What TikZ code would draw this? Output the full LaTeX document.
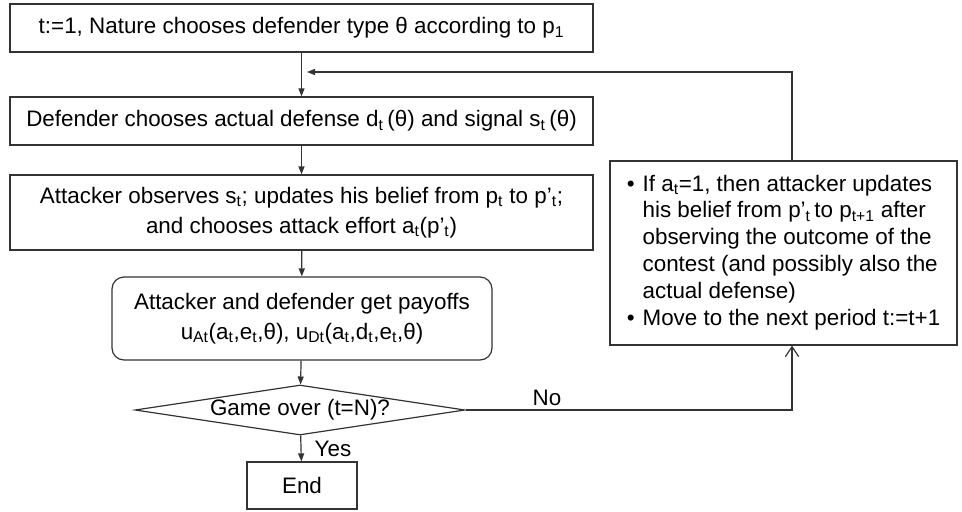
\documentclass[tikz,border=0pt]{standalone}
\usepackage{fontspec}
\setmainfont{Liberation Sans}
\usetikzlibrary{shapes, arrows.meta, calc}
\tikzset{box/.style={draw=black!80, line width=0.9pt, rectangle, inner sep=0pt, align=center},
roundbox/.style={box, rounded corners=9pt},
decide/.style={draw=black!80, line width=0.9pt, diamond, aspect=6.6, inner sep=0pt},
flow/.style={draw=black!80, line width=0.9pt, -{Triangle[length=6pt,width=4.5pt]}},
back/.style={draw=black!80, line width=0.9pt, -{Straight Barb[length=7.5pt,width=10pt]}}}

\begin{document}
\begin{tikzpicture}[x=0.75pt, y=-0.75pt, font=\fontsize{16.8}{20.2}\selectfont]
\useasboundingbox (0,0) rectangle (962,511);
% main column
\node[box, minimum width=437.25pt, minimum height=36pt] (nature) at (301.5,28) {t:=1, Nature chooses defender type θ according to p\textsubscript{1}};
\node[box, minimum width=437.25pt, minimum height=36pt] (defend) at (301.5,121) {Defender chooses actual defense d\textsubscript{t}\,(θ) and signal s\textsubscript{t}\,(θ)};
\node[box, minimum width=437.25pt, minimum height=56.25pt] (attack) at (301.5,212.5) {Attacker observes s\textsubscript{t}; updates his belief from p\textsubscript{t} to p’\textsubscript{t};\\[2pt] and chooses attack effort a\textsubscript{t}(p’\textsubscript{t})};
\node[roundbox, minimum width=285pt, minimum height=62.25pt] (payoff) at (302,318.5) {Attacker and defender get payoffs\\[2.5pt] u\textsubscript{At}(a\textsubscript{t},e\textsubscript{t},θ), u\textsubscript{Dt}(a\textsubscript{t},d\textsubscript{t},e\textsubscript{t},θ)};
\node[decide, minimum width=247.5pt, minimum height=37.5pt] (game) at (300,410) {\raisebox{-2pt}{Game over (t=N)?}};
\node[box, minimum width=82.5pt, minimum height=35.25pt] (end) at (302,485.5) {End};
% update box on the right
\node[box, minimum width=260.25pt, minimum height=138pt] (update) at (783.5,253) {%
\begin{tabular}{@{}l@{\hspace{6pt}}l@{}}
\textbullet & If a\textsubscript{t}=1, then attacker updates\\
 & his belief from p’\textsubscript{t}\,to p\textsubscript{t+1} after\\
 & observing the outcome of the\\
 & contest (and possibly also the\\
 & actual defense)\\
\textbullet & Move to the next period t:=t+1
\end{tabular}};
\coordinate (join) at (307,72);
\coordinate (loop) at (792,72);
% connectors
\draw[flow] (nature) -- (defend);
\draw[flow] (defend) -- (attack);
\draw[flow] (attack) -- (payoff);
\draw[flow] (payoff) -- (game);
\draw[flow] (game) -- (end);
\node[anchor=west] (yes) at (310,449) {Yes};
\draw[back] (game.east) -- (game.east -| loop) -- (update.south -| loop);
\node (no) at (547,398) {No};
\draw[flow] (update.north -| loop) -- (loop) -- (join);
\end{tikzpicture}
\end{document}
